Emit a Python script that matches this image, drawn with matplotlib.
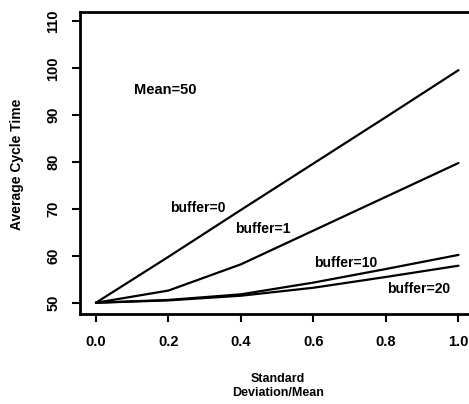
import matplotlib
matplotlib.use("Agg")
import matplotlib.pyplot as plt

plt.rcParams['font.family'] = ['Liberation Sans', 'DejaVu Sans']
plt.rcParams['font.weight'] = 'bold'

sd_mean = [0.0, 0.2, 0.4, 0.6, 0.8, 1.0]
buffer_0 = [50, 59.8, 69.8, 79.7, 89.6, 99.6]
buffer_1 = [50, 52.6, 58.2, 65.4, 72.6, 79.8]
buffer_10 = [50, 50.6, 51.8, 54.3, 57.2, 60.2]
buffer_20 = [50, 50.5, 51.5, 53.2, 55.5, 57.9]

series = [buffer_0, buffer_1, buffer_10, buffer_20]
labels = ['buffer=0', 'buffer=1', 'buffer=10', 'buffer=20']
label_pos = [(0.28, 70.2), (0.46, 65.7), (0.69, 58.5), (0.89, 53.0)]

xticks = [0.0, 0.2, 0.4, 0.6, 0.8, 1.0]
yticks = [50, 60, 70, 80, 90, 100, 110]

fig = plt.figure(figsize=(4.69, 4.04), dpi=100)
ax = fig.add_axes([80 / 469, 90 / 404, 393 / 469, 302 / 404])

for ys in series:
    ax.plot(sd_mean, ys, color='black', linewidth=1.6, solid_capstyle='round')

for lab, (lx, ly) in zip(labels, label_pos):
    ax.text(lx, ly, lab, fontsize=10, fontweight='bold', ha='center', va='center')

ax.text(0.19, 95.3, 'Mean=50', fontsize=10.5, fontweight='bold', ha='center', va='center')

ax.set_xlim(-0.044, 1.04)
ax.set_ylim(47.6, 112)
ax.set_xticks(xticks)
ax.set_xticklabels(['%.1f' % v for v in xticks])
ax.set_yticks(yticks)
ax.set_yticklabels([str(v) for v in yticks], rotation=90, va='center')

ax.tick_params(axis='both', direction='out', length=6, width=1.5, labelsize=10.5)
ax.tick_params(axis='x', pad=9)
ax.tick_params(axis='y', pad=8)
for sp in ax.spines.values():
    sp.set_linewidth(2)

fig.text(17 / 469, 1 - 164 / 404, 'Average Cycle Time', rotation=90,
         ha='center', va='center', fontsize=10, fontweight='bold')
fig.text(278 / 469, 1 - 386 / 404, 'Standard\nDeviation/Mean', ha='center',
         va='center', fontsize=9, fontweight='bold', linespacing=1.3)

fig.savefig('out.png', dpi=100)
